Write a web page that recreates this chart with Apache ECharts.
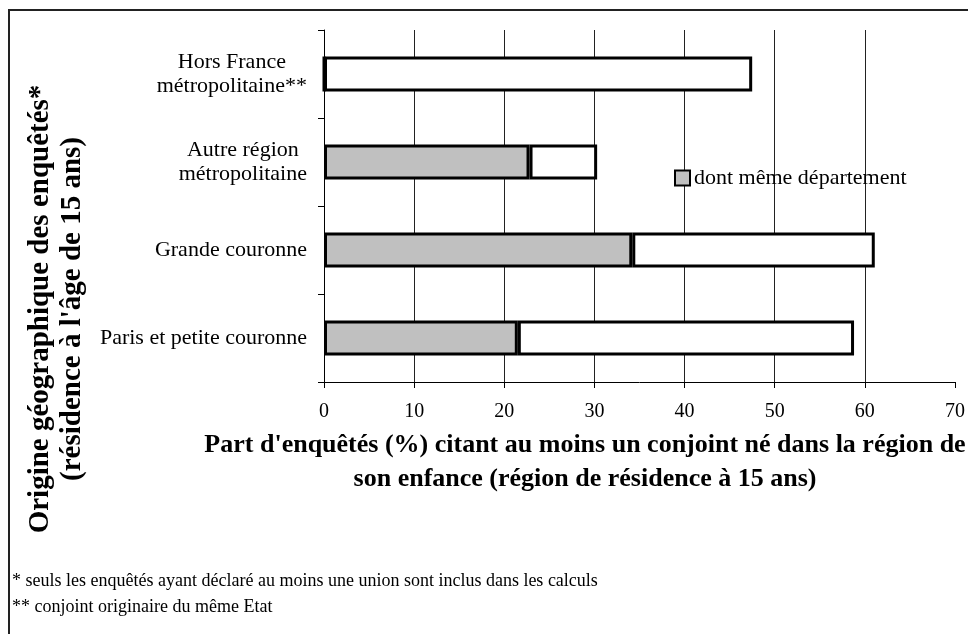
<!DOCTYPE html>
<html>
<head>
<meta charset="utf-8">
<script src="https://cdn.jsdelivr.net/npm/echarts@6/dist/echarts.min.js"></script>
<style>
  html, body { margin: 0; padding: 0; background: #fff; }
  #chart { width: 968px; height: 634px; }
</style>
</head>
<body>
<div id="chart"></div>
<script>
// categories from bottom to top
var categories = [
  "Paris et petite couronne",
  "Grande couronne",
  "Autre région\nmétropolitaine",
  "Hors France\nmétropolitaine**"
];
// part citant un conjoint né dans la même région (total)
var totalValues = [58.8, 61.1, 30.3, 47.5];
// dont même département
var sameDeptValues = [21.5, 34.2, 22.8, 0];
var xTicks = [0, 10, 20, 30, 40, 50, 60, 70];

var restValues = totalValues.map(function (v, i) {
  return +(v - sameDeptValues[i]).toFixed(1);
});

var serif = "Liberation Serif, Times New Roman, serif";

var chart = echarts.init(document.getElementById("chart"));
chart.setOption({
  animation: false,
  backgroundColor: "#fff",
  textStyle: { fontFamily: serif, color: "#000" },
  grid: { left: 324, right: 12, top: 30, bottom: 252 },
  legend: {
    data: ["dont même département"],
    left: 669,
    top: 162,
    icon: "rect",
    itemWidth: 15,
    itemHeight: 15,
    itemGap: 4,
    itemStyle: { borderColor: "#000", borderWidth: 2 },
    textStyle: { fontFamily: serif, fontSize: 22, color: "#000", padding: [0, 0, 0, -1] }
  },
  xAxis: {
    type: "value",
    min: xTicks[0],
    max: xTicks[xTicks.length - 1],
    interval: 10,
    axisLine: { show: true, lineStyle: { color: "#000", width: 1 } },
    axisTick: { show: true, length: 6, lineStyle: { color: "#000" } },
    axisLabel: { fontFamily: serif, fontSize: 20, color: "#000", margin: 20 },
    splitLine: {
      show: true,
      showMinLine: false,
      showMaxLine: false,
      lineStyle: { color: "#222", width: 1 }
    }
  },
  yAxis: {
    type: "category",
    data: categories,
    axisLine: { show: true, lineStyle: { color: "#000", width: 1 } },
    axisTick: { show: true, length: 6, lineStyle: { color: "#000" } },
    axisLabel: {
      fontFamily: serif,
      fontSize: 22,
      color: "#000",
      margin: 17,
      lineHeight: 24,
      formatter: function (v) {
        return v.split("\n").map(function (s) { return "{c|" + s + "}"; }).join("\n");
      },
      rich: { c: { align: "center", fontFamily: serif, fontSize: 22, lineHeight: 24, color: "#000" } }
    }
  },
  series: [
    {
      name: "dont même département",
      type: "bar",
      stack: "t",
      barWidth: 35,
      data: sameDeptValues,
      itemStyle: { color: "#c0c0c0", borderColor: "#000", borderWidth: 3 }
    },
    {
      name: "autre",
      type: "bar",
      stack: "t",
      barWidth: 35,
      data: restValues,
      itemStyle: { color: "#fff", borderColor: "#000", borderWidth: 3 }
    }
  ],
  graphic: [
    {
      type: "rect",
      shape: { x: 9, y: 10, width: 980, height: 660 },
      style: { fill: null, stroke: "#222", lineWidth: 2 },
      silent: true
    },
    {
      type: "text",
      x: 57,
      y: 309,
      rotation: Math.PI / 2,
      style: {
        text: "Origine géographique des enquêtés*\n(résidence à l'âge de 15 ans)",
        font: "bold 29px " + serif,
        fill: "#000",
        align: "center",
        verticalAlign: "middle",
        lineHeight: 32
      }
    },
    {
      type: "text",
      x: 585,
      y: 428,
      style: {
        text: "Part d'enquêtés (%) citant au moins un conjoint né dans la région de\nson enfance (région de résidence à 15 ans)",
        font: "bold 26px " + serif,
        fill: "#000",
        align: "center",
        verticalAlign: "top",
        lineHeight: 34
      }
    },
    {
      type: "text",
      x: 12,
      y: 568,
      style: {
        text: "* seuls les enquêtés ayant déclaré au moins une union sont inclus dans les calculs\n** conjoint originaire du même Etat",
        font: "18px " + serif,
        fill: "#000",
        lineHeight: 26
      }
    }
  ]
});
</script>
</body>
</html>
